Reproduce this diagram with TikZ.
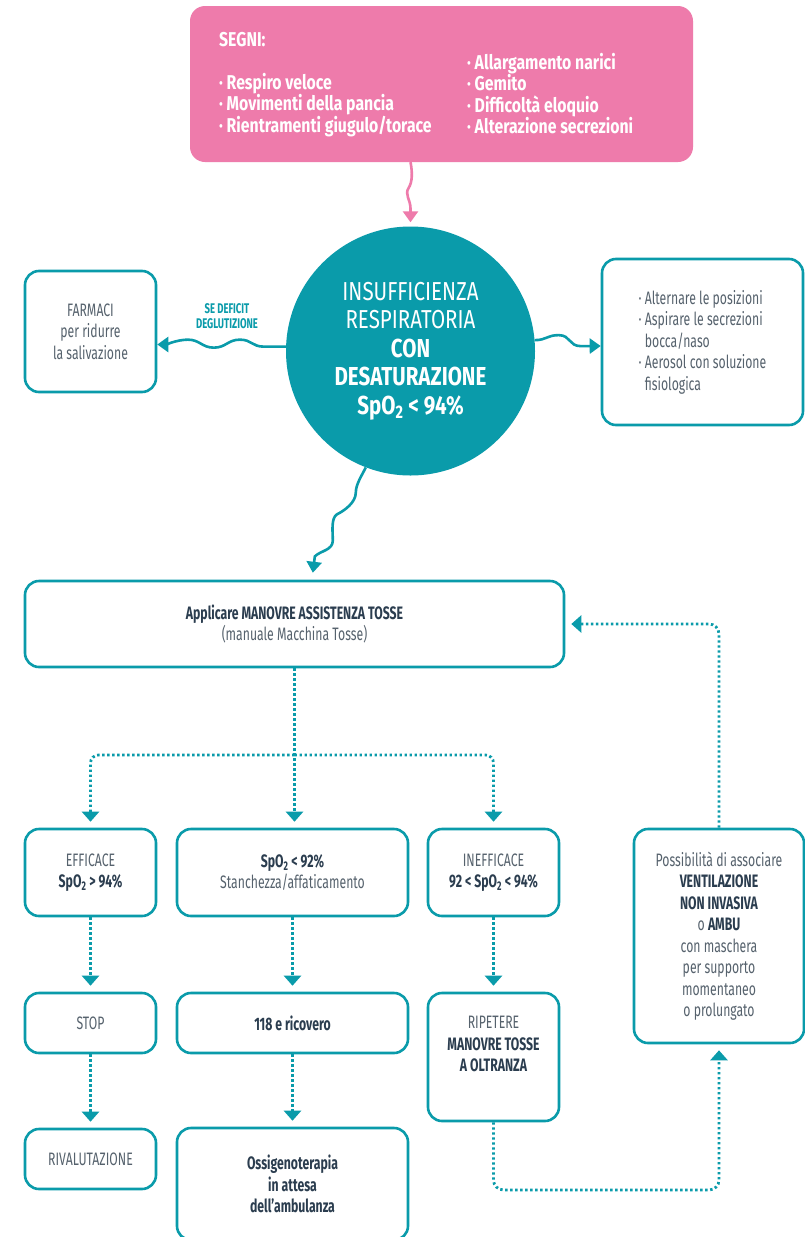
\documentclass[tikz,border=0pt]{standalone}
\usepackage{fontspec}
\setmainfont{Fira Sans}[FakeStretch=0.68]
\newfontfamily\widefont{Fira Sans}[FakeStretch=0.79]
\usetikzlibrary{arrows.meta}

\definecolor{petrol}{HTML}{0A9BAA}
\definecolor{rosa}{HTML}{EE7BAB}
\definecolor{inkdark}{HTML}{2B3D4F}
\definecolor{inklight}{HTML}{56626D}

\newcommand{\bft}[1]{{\bfseries\color{inkdark}#1}}

\tikzset{
  box/.style={draw=petrol, line width=2.6pt, rounded corners=14pt, fill=white,
    align=center, text=inklight, inner sep=0pt,
    font=\fontsize{18}{21.5}\selectfont},
  wave/.style={draw=petrol, line width=2.6pt, -{Triangle[width=15pt,length=11pt]}},
  dots/.style={draw=petrol, line width=2.8pt, dash pattern=on 2.4pt off 2.6pt,
    -{Triangle[width=17pt,length=10pt]}, shorten >=6pt},
  segtxt/.style={text=white, font=\widefont\fontsize{20}{21.5}\selectfont\bfseries,
    align=left, inner sep=0pt}
}

\begin{document}
\begin{tikzpicture}[x=1pt, y=-1pt]
\fill[white] (0,0) rectangle (805,1237);
\useasboundingbox (0,0) rectangle (805,1237);

% segni
\node[fill=rosa, rounded corners=15pt, minimum width=503pt, minimum height=156pt] (segni) at (441.5,84) {};
\node[segtxt, anchor=north west] (segtitle) at (219,32) {SEGNI:};
\node[segtxt, anchor=north west] (segleft) at (219,73) {· Respiro veloce\\· Movimenti della pancia\\· Rientramenti giugulo/torace};
\node[segtxt, anchor=north west] (segright) at (467,53) {· Allargamento narici\\· Gemito\\· Difficoltà eloquio\\· Alterazione secrezioni};

% centro
\node[circle, fill=petrol, minimum size=249pt, inner sep=0pt, text=white, align=center,
  font=\widefont\fontsize{26}{28.5}\selectfont] (insuf) at (410.5,351)
  {INSUFFICIENZA\\RESPIRATORIA\\\textbf{CON}\\\textbf{DESATURAZIONE}\\\textbf{SpO\textsubscript{2} < 94\%}};

\node[box, minimum width=131pt, minimum height=121pt] (farmaci) at (90.5,331.5) {FARMACI\\per ridurre\\la salivazione};
\node[text=petrol, font=\fontsize{14}{15.5}\selectfont\bfseries, align=center, inner sep=0pt] (sedef) at (227,316) {SE DEFICIT\\DEGLUTIZIONE};
\node[box, align=left, minimum width=201pt, minimum height=166pt] (aerosol) at (702.5,342)
  {· Alternare le posizioni\\· Aspirare le secrezioni\\\phantom{· }bocca/naso\\· Aerosol con soluzione\\\phantom{· }fisiologica};

% manovre
\node[box, minimum width=539pt, minimum height=86pt] (applicare) at (294.5,624)
  {\bft{Applicare MANOVRE ASSISTENZA TOSSE}\\(manuale Macchina Tosse)};

\node[box, minimum width=131pt, minimum height=87pt] (efficace) at (90.5,872.5) {EFFICACE\\\bft{SpO\textsubscript{2} > 94\%}};
\node[box, minimum width=231pt, minimum height=87pt] (stanch) at (292.5,872.5) {\bft{SpO\textsubscript{2} < 92\%}\\Stanchezza/affaticamento};
\node[box, minimum width=131pt, minimum height=87pt] (inefficace) at (493.5,872.5) {INEFFICACE\\\bft{92 < SpO\textsubscript{2} < 94\%}};
\node[box, minimum width=170pt, minimum height=214pt] (ventilazione) at (719,936)
  {Possibilità di associare\\\bft{VENTILAZIONE}\\\bft{NON INVASIVA}\\o \bft{AMBU}\\con maschera\\per supporto\\momentaneo\\o prolungato};

\node[box, minimum width=131pt, minimum height=60pt] (stop) at (90.5,1023) {STOP};
\node[box, minimum width=231pt, minimum height=60pt] (ricovero) at (292.5,1023) {\bft{118 e ricovero}};
\node[box, minimum width=131pt, minimum height=128pt] (ripetere) at (493.5,1057)
  {RIPETERE\\\bft{MANOVRE TOSSE}\\\bft{A OLTRANZA}\\[4.5pt]\mbox{}};

\node[box, minimum width=131pt, minimum height=60pt] (rivalutazione) at (90.5,1159) {RIVALUTAZIONE};
\node[box, minimum width=231pt, minimum height=112pt] (ossigeno) at (292.5,1184)
  {\bft{Ossigenoterapia}\\\bft{in attesa}\\\bft{dell’ambulanza}};

% frecce ondulate
\draw[wave, draw=rosa, shorten >=4pt] (insuf.north |- segni.south)
  .. controls +(2,10) and +(4,-6) .. ++(-2,26)
  .. controls +(-4,6) and +(0,-8) .. ++(2,20) -- (insuf.north);
\draw[wave] (insuf.178) -- ++(-22,0)
  .. controls +(-12,0) and +(12,0) .. ++(-24,-7)
  .. controls +(-12,0) and +(12,0) .. ++(-26,8)
  .. controls +(-12,0) and +(12,0) .. ++(-26,-8)
  .. controls +(-10,0) and +(8,0) .. ([yshift=-13pt]farmaci.east);
\draw[wave] (insuf.5)
  .. controls +(12,0) and +(-12,0) .. ++(24,-5)
  .. controls +(12,0) and +(-12,0) .. ++(22,11) -- ([yshift=-4pt]aerosol.west);
\draw[wave, shorten >=7pt] (insuf.249)
  .. controls +(-4,8) and +(0,-8) .. ++(-10,25)
  .. controls +(0,10) and +(8,-4) .. ++(-19,22)
  .. controls +(-6,4) and +(0,-8) .. ++(-4,26)
  .. controls +(0,10) and +(6,-6) .. ++(-18,16) -- (312,0 |- applicare.north);

% frecce tratteggiate
\coordinate (fork) at (294.5,755);
\draw[dots] (applicare.south) -- (applicare.south |- stanch.north);
\draw[dots, rounded corners=8pt] (fork) -| (efficace.north);
\draw[dots, rounded corners=8pt] (fork) -| (inefficace.north);
\draw[dots] (efficace) -- (stop);
\draw[dots] (stanch) -- (ricovero);
\draw[dots] (inefficace) -- (ripetere);
\draw[dots] (stop) -- (rivalutazione);
\draw[dots] (ricovero) -- (ossigeno);
\draw[dots, rounded corners=10pt] (ripetere.south) -- (ripetere.south |- 0,1190)
  -- (ventilazione.south |- 0,1190) -- (ventilazione.south);
\draw[dots, rounded corners=10pt] (ventilazione.north) |- (applicare.east);
\end{tikzpicture}
\end{document}
